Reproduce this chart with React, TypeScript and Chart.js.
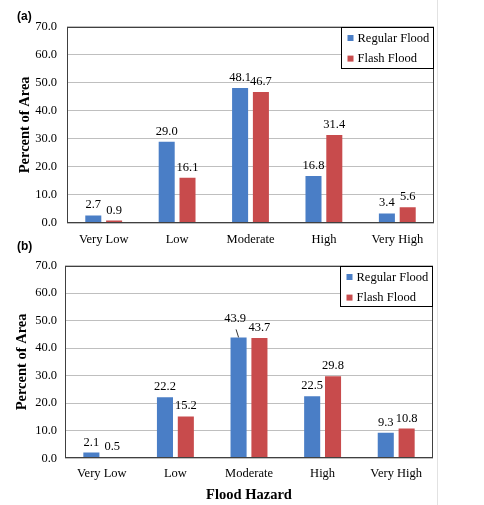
import React, { useEffect, useRef } from 'react';
import { Chart, registerables } from 'chart.js';

Chart.register(...registerables);

// ---------- data ----------
const categories = ['Very Low', 'Low', 'Moderate', 'High', 'Very High'];
const seriesNames = ['Regular Flood', 'Flash Flood'];
const regularA = [2.7, 29.0, 48.1, 16.8, 3.4];
const flashA = [0.9, 16.1, 46.7, 31.4, 5.6];
const regularB = [2.1, 22.2, 43.9, 22.5, 9.3];
const flashB = [0.5, 15.2, 43.7, 29.8, 10.8];
const yMin = 0;
const yMax = 70;
const yStep = 10;
const yTitle = 'Percent of Area';
const xTitle = 'Flood Hazard';

const BLUE = '#4a7ec6';
const RED = '#c84b4c';
const SERIF = '"Liberation Serif", "Times New Roman", serif';

const panelPlugin = {
  id: 'panelDecor',
  afterDatasetsDraw(chart: any, _args: any, opts: any) {
    const ctx = chart.ctx;
    const area = chart.chartArea;
    ctx.save();
    // value labels
    ctx.font = `12.5px ${SERIF}`;
    ctx.fillStyle = '#000';
    ctx.textAlign = 'center';
    ctx.textBaseline = 'bottom';
    chart.data.datasets.forEach((ds: any, di: number) => {
      const meta = chart.getDatasetMeta(di);
      meta.data.forEach((el: any, i: number) => {
        const v = ds.data[i];
        const sp = (opts.special || []).find((s: any) => s.dataset === di && s.index === i);
        const dx = sp ? sp.dx : 0;
        const dy = sp ? sp.dy : 0;
        const x = el.x + dx;
        const y = el.y - 4 + dy;
        ctx.fillText(Number(v).toFixed(1), x, y);
        if (sp && sp.leader) {
          ctx.strokeStyle = '#333';
          ctx.lineWidth = 1;
          ctx.beginPath();
          ctx.moveTo(x + 1, y + 4);
          ctx.lineTo(el.x, el.y);
          ctx.stroke();
        }
      });
    });
    // plot frame
    ctx.strokeStyle = '#404040';
    ctx.lineWidth = 1;
    const l = Math.round(area.left) + 0.5;
    const t = Math.round(area.top) + 0.5;
    const r = Math.round(area.right) - 0.5;
    const b = Math.round(area.bottom) - 0.5;
    ctx.strokeRect(l, t, r - l, b - t);
    // legend
    const lw = opts.legendW || 92;
    const lh = opts.legendH || 41;
    const lx = r - lw;
    const ly = t;
    ctx.fillStyle = '#fff';
    ctx.fillRect(lx, ly, lw, lh);
    ctx.strokeStyle = '#000';
    ctx.strokeRect(lx, ly, lw, lh);
    ctx.font = `12.5px ${SERIF}`;
    ctx.textAlign = 'left';
    ctx.textBaseline = 'middle';
    chart.data.datasets.forEach((ds: any, di: number) => {
      const cy = ly + 10.5 + di * 20.6;
      ctx.fillStyle = ds.backgroundColor;
      ctx.fillRect(lx + 6, cy - 3, 6, 6);
      ctx.fillStyle = '#000';
      ctx.fillText(ds.label, lx + 16, cy + 0.5);
    });
    ctx.restore();
  },
};

type PanelProps = {
  top: number;
  height: number;
  regular: number[];
  flash: number[];
  padTop: number;
  padRight: number;
  yWidth: number;
  xHeight: number;
  yTitlePad: number;
  tickPad: number;
  yTickPad: number;
  showXTitle: boolean;
  legendH: number;
  special: any[];
};

function Panel(p: PanelProps) {
  const ref = useRef<HTMLCanvasElement | null>(null);
  useEffect(() => {
    if (!ref.current) return;
    const chart = new Chart(ref.current, {
      type: 'bar',
      data: {
        labels: categories,
        datasets: [
          { label: seriesNames[0], data: p.regular, backgroundColor: BLUE, borderWidth: 0 },
          { label: seriesNames[1], data: p.flash, backgroundColor: RED, borderWidth: 0 },
        ],
      },
      plugins: [panelPlugin],
      options: {
        responsive: false,
        animation: false,
        events: [],
        layout: {
          autoPadding: false,
          padding: { top: p.padTop, right: p.padRight, bottom: 0, left: 0 },
        } as any,
        datasets: {
          bar: { categoryPercentage: 0.567, barPercentage: 0.77 },
        },
        plugins: {
          legend: { display: false },
          tooltip: { enabled: false },
          panelDecor: { special: p.special, legendH: p.legendH, legendW: 92 },
        } as any,
        scales: {
          x: {
            grid: { display: false, drawTicks: false, tickLength: 0 },
            border: { display: false },
            ticks: {
              color: '#000',
              padding: p.tickPad,
              maxRotation: 0,
              autoSkip: false,
              font: { family: SERIF, size: 12.5 },
            },
            title: {
              display: p.showXTitle,
              text: xTitle,
              color: '#000',
              font: { family: SERIF, size: 14.5, weight: 'bold' },
              padding: { top: 0, bottom: 1.3 },
            },
            afterFit: (s: any) => {
              s.height = p.xHeight;
            },
          },
          y: {
            min: yMin,
            max: yMax,
            grid: { color: '#bfbfbf', lineWidth: 1, drawTicks: false, tickLength: 0 },
            border: { display: false },
            ticks: {
              stepSize: yStep,
              color: '#000',
              padding: p.yTickPad,
              font: { family: SERIF, size: 12.5 },
              callback: (v: any) => Number(v).toFixed(1),
            },
            title: {
              display: true,
              text: yTitle,
              color: '#000',
              font: { family: SERIF, size: 14.5, weight: 'bold' },
              padding: { top: p.yTitlePad, bottom: 0 },
            },
            afterFit: (s: any) => {
              s.width = p.yWidth;
            },
          },
        },
      } as any,
    });
    return () => chart.destroy();
  }, []);
  return (
    <canvas
      ref={ref}
      width={484}
      height={p.height}
      style={{ position: 'absolute', left: 0, top: p.top, width: 484, height: p.height, display: 'block' }}
    />
  );
}

const tagStyle: React.CSSProperties = {
  position: 'absolute',
  left: 17,
  fontFamily: '"Liberation Sans", Arial, sans-serif',
  fontWeight: 'bold',
  fontSize: 12,
  lineHeight: '12px',
  color: '#000',
};

export default function App() {
  return (
    <div style={{ position: 'fixed', left: 0, top: 0, width: 484, height: 505, background: '#fff', overflow: 'hidden' }}>
      <Panel
        top={0}
        height={250}
        regular={regularA}
        flash={flashA}
        padTop={26.7}
        padRight={50}
        yWidth={67}
        xHeight={27}
        yTitlePad={16.3}
        tickPad={9}
        yTickPad={10}
        showXTitle={false}
        legendH={41}
        special={[]}
      />
      <Panel
        top={250}
        height={255}
        regular={regularB}
        flash={flashB}
        padTop={12.3}
        padRight={51}
        yWidth={65}
        xHeight={46.7}
        yTitlePad={13.8}
        tickPad={8}
        yTickPad={8}
        showXTitle={true}
        legendH={40}
        special={[{ dataset: 0, index: 2, dx: -3.5, dy: -8, leader: true }]}
      />
      <div style={{ ...tagStyle, top: 10 }}>(a)</div>
      <div style={{ ...tagStyle, top: 239.5 }}>(b)</div>
      <div style={{ position: 'absolute', left: 437, top: 0, width: 1, height: 505, background: '#e2e2e2' }} />
    </div>
  );
}
